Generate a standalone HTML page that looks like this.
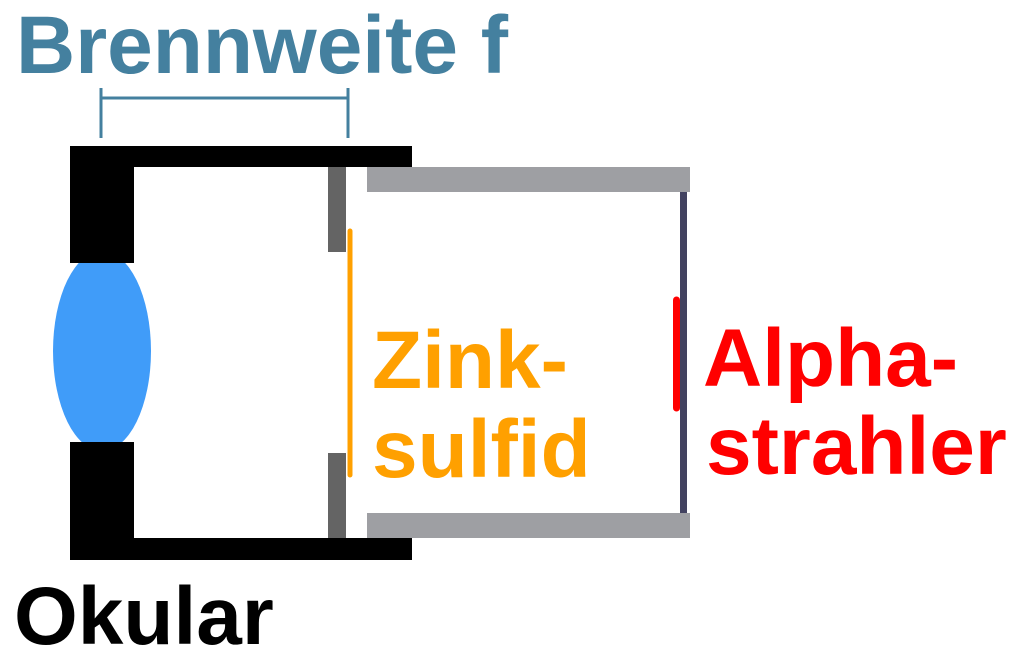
<!DOCTYPE html>
<html><head><meta charset="utf-8"><style>
html,body{margin:0;padding:0;background:#fff;width:1024px;height:669px;overflow:hidden}
svg{display:block}
text{font-family:"Liberation Sans",Arial,sans-serif;font-weight:bold;font-size:82px}
</style></head><body>
<svg width="1024" height="669" viewBox="0 0 1024 669" xmlns="http://www.w3.org/2000/svg">
<rect width="1024" height="669" fill="#fff"/>
<text x="16" y="73" fill="#44809f">Brennweite f</text>
<g stroke="#44809f" stroke-width="3" fill="none">
<line x1="100" y1="98" x2="349" y2="98"/>
<line x1="101" y1="88" x2="101" y2="138"/>
<line x1="348" y1="88" x2="348" y2="138"/>
</g>
<ellipse cx="102" cy="351" rx="49" ry="100" fill="#409cf9"/>
<rect x="70" y="146" width="342" height="21" fill="#000"/>
<rect x="70" y="146" width="64" height="117" fill="#000"/>
<rect x="70" y="442" width="64" height="118" fill="#000"/>
<rect x="70" y="538" width="342" height="22" fill="#000"/>
<rect x="328" y="167" width="18" height="85" fill="#646464"/>
<rect x="328" y="453" width="18" height="85" fill="#646464"/>
<line x1="350" y1="231" x2="350" y2="475" stroke="#ffa000" stroke-width="5" stroke-linecap="round"/>
<rect x="367" y="167" width="323" height="25" fill="#9e9fa3"/>
<rect x="367" y="513" width="323" height="25" fill="#9e9fa3"/>
<rect x="680" y="192" width="7" height="321" fill="#424260"/>
<line x1="676.5" y1="300" x2="676.5" y2="408" stroke="#f00" stroke-width="7" stroke-linecap="round"/>
<text x="372" y="388" fill="#ffa000">Zink-</text>
<text x="372" y="477" fill="#ffa000">sulfid</text>
<text x="703" y="386" fill="#f00">Alpha-</text>
<text x="706" y="474" fill="#f00">strahler</text>
<text x="14" y="644" fill="#000">Okular</text>
</svg>
</body></html>
